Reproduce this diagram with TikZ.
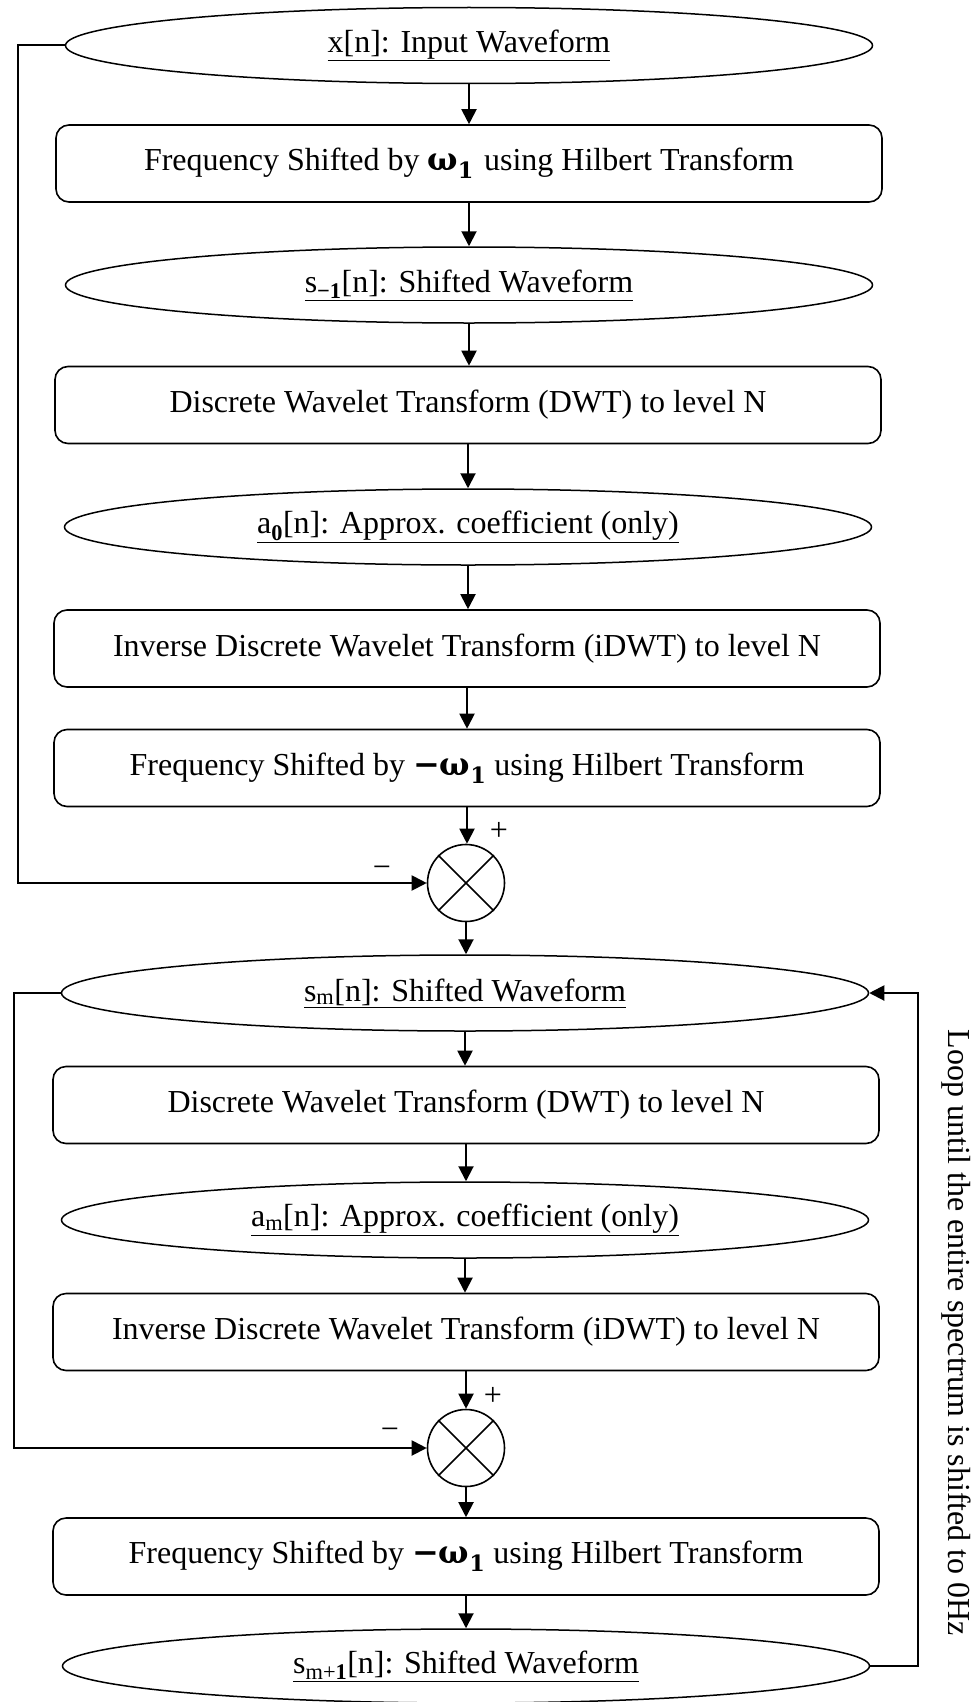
\documentclass[tikz,border=0pt]{standalone}
\usepackage{fontspec}
\setmainfont{Liberation Serif}
\newfontfamily\omegafont{DejaVu Serif}
\usetikzlibrary{arrows.meta,shapes.geometric}
\tikzset{
  proc/.style={draw, line width=1.6pt, rounded corners=13pt, minimum width=826pt, minimum height=77pt, inner sep=0pt},
  data/.style={draw, ellipse, line width=1.5pt, minimum width=807pt, minimum height=76pt, inner sep=0pt},
  mix/.style={draw, circle, line width=1.6pt, minimum size=77pt, inner sep=0pt},
  arr/.style={line width=2pt, -{Triangle[length=15pt,width=15pt]}},
  sign/.style={inner sep=0pt},
}
\newcommand{\wone}{{\omegafont\bfseries ω}\textsubscript{\omegafont\bfseries 1}\hspace{2pt}}
\newcommand{\mwone}{{\omegafont\bfseries −ω}\textsubscript{\omegafont\bfseries 1}}
\begin{document}
\begin{tikzpicture}[x=1pt,y=-1pt,font=\fontsize{32}{38}\selectfont]
\useasboundingbox (0,0) rectangle (976,1702);
% upper chain
\node[data] (e1) at (469,45.5) {\underline{x[n]: Input Waveform}};
\node[proc] (b1) at (469,163.5) {Frequency Shifted by \wone{} using Hilbert Transform};
\node[data] (e2) at (469,285) {\underline{s\textsubscript{\bfseries −1}[n]: Shifted Waveform}};
\node[proc] (b2) at (468,405) {Discrete Wavelet Transform (DWT) to level N};
\node[data] (e3) at (468,527) {\underline{a\textsubscript{\bfseries 0}[n]: Approx. coefficient (only)}};
\node[proc] (b3) at (467,648.5) {Inverse Discrete Wavelet Transform (iDWT) to level N};
\node[proc] (b4) at (467,768) {Frequency Shifted by \mwone{} using Hilbert Transform};
\node[mix] (c1) at (466,883) {};
% lower chain
\node[data] (e4) at (465,993) {\underline{s\textsubscript{m}[n]: Shifted Waveform}};
\node[proc] (b5) at (466,1105) {Discrete Wavelet Transform (DWT) to level N};
\node[data] (e5) at (465,1220) {\underline{a\textsubscript{m}[n]: Approx. coefficient (only)}};
\node[proc] (b6) at (466,1332) {Inverse Discrete Wavelet Transform (iDWT) to level N};
\node[mix] (c2) at (466,1448) {};
\node[proc] (b7) at (466,1556.5) {Frequency Shifted by \mwone{} using Hilbert Transform};
\node[data, minimum height=74pt] (e6) at (466,1666) {\underline{s\textsubscript{m+\bfseries 1}[n]: Shifted Waveform}};
% mixer crosses
\draw[line width=1.5pt] (c1.north west) -- (c1.south east) (c1.north east) -- (c1.south west);
\draw[line width=1.5pt] (c2.north west) -- (c2.south east) (c2.north east) -- (c2.south west);
% signs
\node[sign] (p1) at (499,831) {+};
\node[sign] (m1) at (382,872) {−};
\node[sign] (p2) at (493,1396) {+};
\node[sign] (m2) at (390,1434) {−};
% vertical arrows
\draw[arr] (e1.south) -- (e1.south |- b1.north);
\draw[arr] (b1.south) -- (b1.south |- e2.north);
\draw[arr] (e2.south) -- (e2.south |- b2.north);
\draw[arr] (b2.south) -- (b2.south |- e3.north);
\draw[arr] (e3.south) -- (e3.south |- b3.north);
\draw[arr] (b3.south) -- (b3.south |- b4.north);
\draw[arr] (b4.south) -- (b4.south |- c1.north);
\draw[arr] (c1.south) -- (c1.south |- e4.north);
\draw[arr] (e4.south) -- (e4.south |- b5.north);
\draw[arr] (b5.south) -- (b5.south |- e5.north);
\draw[arr] (e5.south) -- (e5.south |- b6.north);
\draw[arr] (b6.south) -- (b6.south |- c2.north);
\draw[arr] (c2.south) -- (c2.south |- b7.north);
\draw[arr] (b7.south) -- (b7.south |- e6.north);
% feedback paths
\coordinate (f1) at (18,45.5);
\coordinate (f2) at (14,993);
\coordinate (lp) at (918,1666);
\draw[arr] (e1.west) -- (f1) |- (c1.west);
\draw[arr] (e4.west) -- (f2) |- (c2.west);
\draw[arr] (e6.east) -- (lp) |- (e4.east);
% loop note
\node[rotate=-90] (lt) at (956,1333) {Loop until the entire spectrum is shifted to 0Hz};
\end{tikzpicture}
\end{document}
